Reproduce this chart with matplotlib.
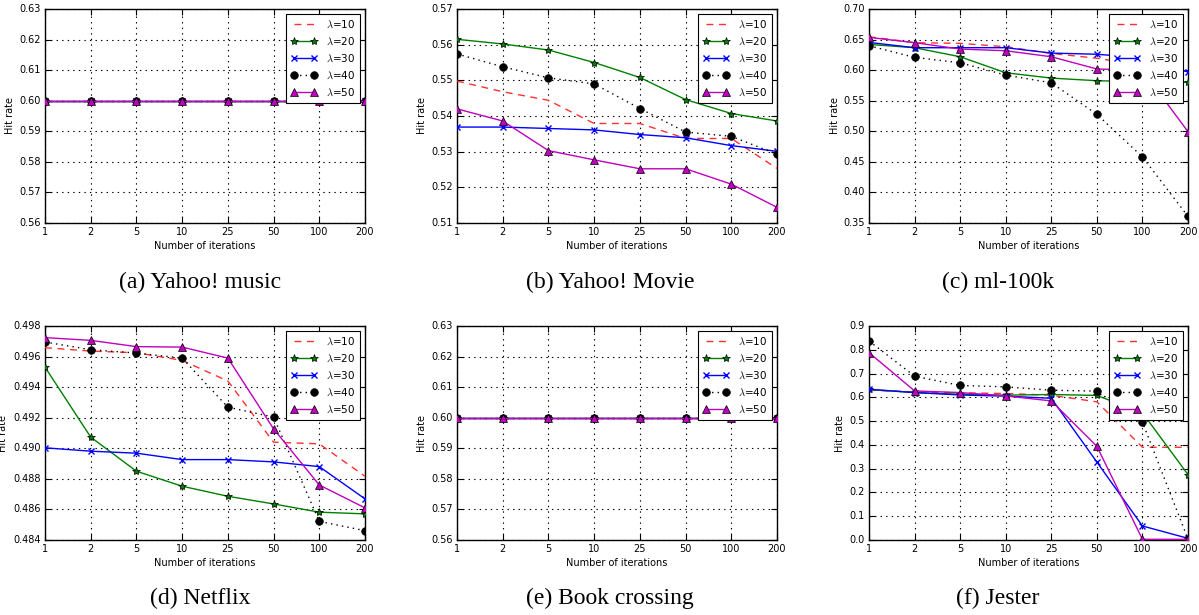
import matplotlib
matplotlib.use("Agg")
import matplotlib.pyplot as plt
from matplotlib.ticker import FormatStrFormatter, MultipleLocator

plt.style.use("classic")
plt.rcParams["mathtext.fontset"] = "cm"
plt.rcParams["font.family"] = ["DejaVu Sans"]

iterations = ["1", "2", "5", "10", "25", "50", "100", "200"]
lambdas = ["10", "20", "30", "40", "50"]

yahoo_music = {
    "10": [0.600] * 8,
    "20": [0.600] * 8,
    "30": [0.600] * 8,
    "40": [0.600] * 8,
    "50": [0.600] * 8,
}
yahoo_movie = {
    "10": [0.5498, 0.5468, 0.5444, 0.5379, 0.5379, 0.5337, 0.5337, 0.5253],
    "20": [0.5615, 0.5602, 0.5585, 0.5550, 0.5508, 0.5446, 0.5407, 0.5386],
    "30": [0.5369, 0.5369, 0.5365, 0.5361, 0.5348, 0.5339, 0.5317, 0.5301],
    "40": [0.5574, 0.5538, 0.5507, 0.5490, 0.5421, 0.5355, 0.5343, 0.5293],
    "50": [0.5420, 0.5386, 0.5303, 0.5277, 0.5252, 0.5252, 0.5209, 0.5144],
}
ml100k = {
    "10": [0.6547, 0.6449, 0.6438, 0.6383, 0.6274, 0.6194, 0.6080, 0.5980],
    "20": [0.6421, 0.6367, 0.6219, 0.5957, 0.5870, 0.5827, 0.5810, 0.5800],
    "30": [0.6454, 0.6367, 0.6367, 0.6367, 0.6279, 0.6260, 0.6200, 0.5970],
    "40": [0.6399, 0.6208, 0.6121, 0.5919, 0.5793, 0.5278, 0.4581, 0.3609],
    "50": [0.6536, 0.6449, 0.6345, 0.6317, 0.6219, 0.6019, 0.6000, 0.4993],
}
netflix = {
    "10": [0.49658, 0.49636, 0.49625, 0.49575, 0.49440, 0.49040, 0.49029, 0.48817],
    "20": [0.49531, 0.49073, 0.48850, 0.48752, 0.48686, 0.48636, 0.48582, 0.48571],
    "30": [0.49003, 0.48981, 0.48968, 0.48926, 0.48926, 0.48911, 0.48880, 0.48669],
    "40": [0.49695, 0.49645, 0.49623, 0.49590, 0.49269, 0.49204, 0.48522, 0.48461],
    "50": [0.49724, 0.49706, 0.49665, 0.49662, 0.49590, 0.49127, 0.48760, 0.48610],
}
book_crossing = {
    "10": [0.600] * 8,
    "20": [0.600] * 8,
    "30": [0.600] * 8,
    "40": [0.600] * 8,
    "50": [0.600] * 8,
}
jester = {
    "10": [0.630, 0.623, 0.619, 0.616, 0.609, 0.581, 0.390, 0.390],
    "20": [0.633, 0.620, 0.613, 0.609, 0.612, 0.608, 0.535, 0.275],
    "30": [0.634, 0.620, 0.610, 0.605, 0.596, 0.328, 0.059, 0.007],
    "40": [0.837, 0.689, 0.650, 0.644, 0.630, 0.626, 0.496, 0.004],
    "50": [0.788, 0.627, 0.620, 0.606, 0.585, 0.394, 0.003, 0.003],
}

panels = [
    ("(a) Yahoo! music", yahoo_music, (0.56, 0.63), 0.01, "%.2f"),
    ("(b) Yahoo! Movie", yahoo_movie, (0.51, 0.57), 0.01, "%.2f"),
    ("(c) ml-100k", ml100k, (0.35, 0.70), 0.05, "%.2f"),
    ("(d) Netflix", netflix, (0.484, 0.498), 0.002, "%.3f"),
    ("(e) Book crossing", book_crossing, (0.56, 0.63), 0.01, "%.2f"),
    ("(f) Jester", jester, (0.0, 0.9), 0.1, "%.1f"),
]

styles = {
    "10": dict(color="#ff3030", linestyle=(0, (5, 4)), marker=None, lw=1.0),
    "20": dict(color="green", linestyle="-", marker="*", ms=6, mec="black", mew=0.5),
    "30": dict(color="blue", linestyle="-", marker="x", ms=5, mec="blue", mew=1.0),
    "40": dict(color="black", linestyle=":", marker="o", ms=5.5, mec="black", mew=0.5),
    "50": dict(color="m", linestyle="-", marker="^", ms=5.5, mec="black", mew=0.5),
}

W, H = 1199, 615
fig = plt.figure(figsize=(W / 100, H / 100), dpi=100, facecolor="white")

col_left = [45, 457, 869]
col_w = [320, 320, 319]
row_top = [9, 326]
row_h = 214
cap_x = [200, 610, 998]
cap_y = [282, 598]
ylabel_off = [-30, -30, -29, -37, -30, -24]

x = list(range(len(iterations)))
for i, (title, data, ylim, step, fmt) in enumerate(panels):
    r, c = divmod(i, 3)
    left = col_left[c] / W
    bottom = 1 - (row_top[r] + row_h) / H
    ax = fig.add_axes([left, bottom, col_w[c] / W, row_h / H])
    for lam in lambdas:
        st = styles[lam]
        ax.plot(x, data[lam], label=r"$\lambda$=" + lam, zorder=3, **st)
    ax.set_xlim(0, len(iterations) - 1)
    ax.set_ylim(*ylim)
    ax.set_xticks(x)
    ax.set_xticklabels(iterations)
    ax.yaxis.set_major_locator(MultipleLocator(step))
    ax.yaxis.set_major_formatter(FormatStrFormatter(fmt))
    ax.tick_params(labelsize=7, direction="in", length=4, width=0.8, pad=3)
    ax.grid(True, linestyle=":", color="black", linewidth=0.8)
    ax.set_xlabel("Number of iterations", fontsize=7, labelpad=3)
    ax.set_ylabel("Hit rate", fontsize=7)
    ax.yaxis.set_label_coords(ylabel_off[i] / col_w[c], 0.5)
    leg = ax.legend(loc="upper right", fontsize=7.5, numpoints=2, handlelength=2.6,
                    borderpad=0.45, labelspacing=0.55, fancybox=False, framealpha=1.0,
                    borderaxespad=0.5)
    leg.get_frame().set_edgecolor("black")
    leg.get_frame().set_linewidth(0.8)
    leg.set_zorder(10)
    fig.text(cap_x[c] / W, 1 - cap_y[r] / H, title, ha="center", va="center",
             fontsize=17, family="Liberation Serif")

fig.savefig("out.png", dpi=100, facecolor="white")
